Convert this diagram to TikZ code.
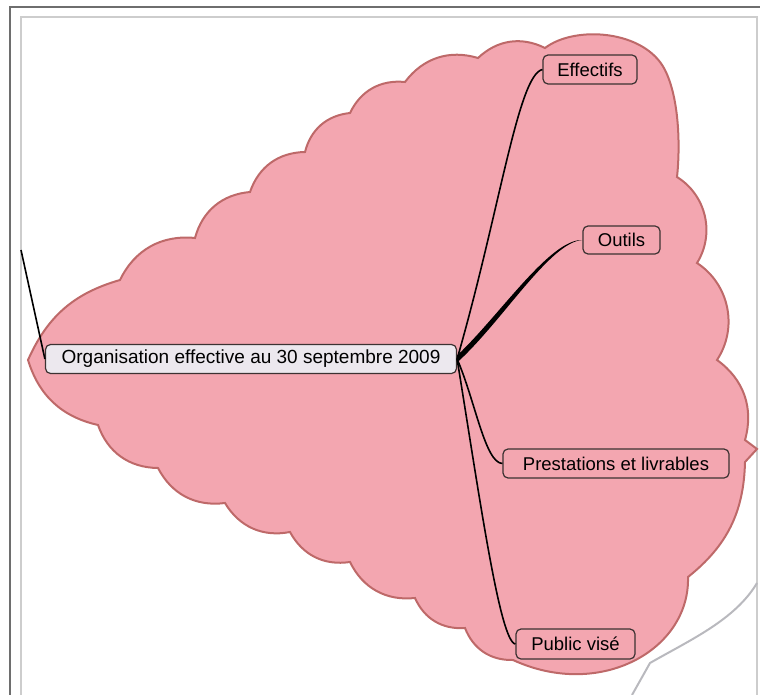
\documentclass[tikz,border=0pt]{standalone}
\usepackage{fontspec}
\setmainfont{Liberation Sans}
\definecolor{cloudfill}{RGB}{243,166,176}
\definecolor{cloudline}{RGB}{190,105,105}
\definecolor{rootfill}{RGB}{236,232,238}
\definecolor{boxline}{RGB}{60,50,50}
\definecolor{frameout}{RGB}{110,110,110}
\definecolor{framein}{RGB}{205,205,205}
\definecolor{swoosh}{RGB}{185,185,190}
\tikzset{
  topic/.style={draw=boxline,line width=1.2pt,rounded corners=5pt,fill=cloudfill,
    minimum height=29pt,inner sep=0pt,font=\fontsize{18.5}{20}\selectfont},
  roottopic/.style={topic,fill=rootfill,font=\fontsize{19}{21}\selectfont},
  link/.style={draw=black,line width=1.6pt},
}
\begin{document}
\begin{tikzpicture}[x=1pt,y=-1pt]
	\useasboundingbox (0,0) rectangle (760,695);
	% frame
	\draw[frameout,line width=1.5pt] (10,695)--(10,7)--(760,7);
	\draw[framein,line width=1.2pt] (21,695)--(21,17)--(757,17)--(757,695);
	\draw[swoosh,line width=2pt] (632,695)--(650,663) .. controls (690,640) and (735,620) .. (757,583);
	% boundary
	\filldraw[fill=cloudfill,draw=cloudline,line width=2pt] (28,360)
		to[bend left=25] (120,280) to[bend left=35] (195,238) to[bend left=35] (250,192)
		to[bend left=35] (305,152) to[bend left=35] (350,113) to[bend left=35] (405,82)
		to[bend left=35] (478,58) to[bend left=35] (545,48)
		.. controls (575,25) and (645,30) .. (665,70) .. controls (680,100) and (680,150) .. (677,177)
		to[bend left=45] (697,263) to[bend left=45] (717,360) to[bend left=35] (745,440)
		--(757,449)--(745,462) to[bend left=25] (688,577)
		.. controls (690,650) and (600,700) .. (513,660)
		to[bend left=35] (465,628) to[bend left=35] (415,598) to[bend left=35] (350,562)
		to[bend left=35] (290,532) to[bend left=35] (225,503) to[bend left=35] (158,468)
		to[bend left=35] (98,425) to[bend left=30] (28,360)--cycle;
	% topics
	\node[roottopic,minimum width=411pt] (org) at (251,359) {Organisation effective au 30 septembre 2009};
	\node[topic,minimum width=94pt] (eff) at (590,69.5) {Effectifs};
	\node[topic,minimum width=77pt,minimum height=28pt] (out) at (621.5,240) {Outils};
	\node[topic,minimum width=226pt] (pre) at (616,463.5) {Prestations et livrables};
	\node[topic,minimum width=119pt,minimum height=30pt] (pub) at (575.5,644) {Public visé};
	\coordinate (parent) at (21,250);
	% links
	\draw[link] (parent)--(org.west);
	\draw[link] (org.east) .. controls (500,210) and (518,75) .. (eff.west);
	\fill ([yshift=3.5pt]org.east) .. controls (500,315) and (550,239) .. (out.west)
		.. controls (550,242) and (502,322) .. ([yshift=-3.5pt]org.east)--cycle;
	\draw[link] (org.east) .. controls (475,400) and (485,463) .. (pre.west);
	\draw[link] (org.east) .. controls (480,500) and (500,642) .. (pub.west);
\end{tikzpicture}
\end{document}
